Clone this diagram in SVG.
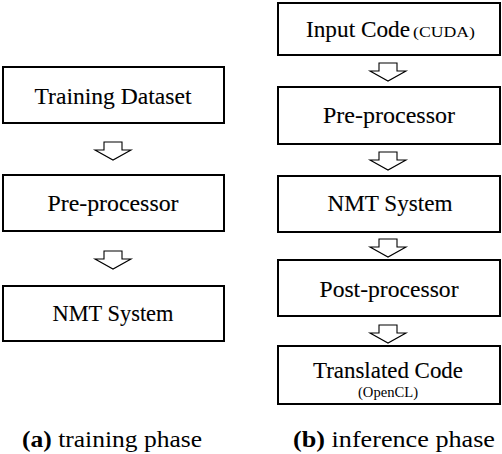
<svg xmlns="http://www.w3.org/2000/svg" width="502" height="454" viewBox="0 0 502 454">
<style>
.box{fill:#fff;stroke:#000;stroke-width:2}
.t{font-family:"Liberation Serif","Times New Roman",serif;font-size:24px;fill:#000;stroke:#000;stroke-width:0.12;text-anchor:middle}
.s{font-family:"Liberation Serif","Times New Roman",serif;font-size:14px;fill:#000}
.arr{fill:#fff;stroke:#000;stroke-width:1.1;stroke-linejoin:miter}
.cap{font-family:"Liberation Serif","Times New Roman",serif;font-size:23px;fill:#000;text-anchor:middle}
</style>
<defs>
<path id="darrow" class="arr" d="M-9,0 H9 V8 H18 L0,18 L-18,8 H-9 Z"/>
</defs>
<rect width="502" height="454" fill="#fff"/>
<g id="connectors">
<use href="#darrow" x="113" y="142"/>
<use href="#darrow" x="113" y="251"/>
<use href="#darrow" x="388" y="63"/>
<use href="#darrow" x="388" y="152"/>
<use href="#darrow" x="388" y="239"/>
<use href="#darrow" x="388" y="325"/>
</g>
<g id="train-dataset">
<rect class="box" x="3" y="67" width="221" height="56"/>
<text class="t" x="113" y="104" textLength="157" lengthAdjust="spacingAndGlyphs">Training Dataset</text>
</g>
<g id="train-preprocessor">
<rect class="box" x="3" y="175" width="221" height="56"/>
<text class="t" x="113" y="211" textLength="131" lengthAdjust="spacingAndGlyphs">Pre-processor</text>
</g>
<g id="train-nmt">
<rect class="box" x="3" y="286" width="221" height="55"/>
<text class="t" x="113" y="321" textLength="121" lengthAdjust="spacingAndGlyphs">NMT System</text>
</g>
<g id="inf-input">
<rect class="box" x="278" y="3" width="222" height="52"/>
<text class="t" x="358" y="37" textLength="104" lengthAdjust="spacingAndGlyphs">Input Code</text>
<text class="s" x="413" y="37" textLength="62" lengthAdjust="spacingAndGlyphs">(CUDA)</text>
</g>
<g id="inf-preprocessor">
<rect class="box" x="278" y="87" width="222" height="57"/>
<text class="t" x="389" y="123" textLength="132" lengthAdjust="spacingAndGlyphs">Pre-processor</text>
</g>
<g id="inf-nmt">
<rect class="box" x="278" y="176" width="222" height="56"/>
<text class="t" x="390" y="211" textLength="125" lengthAdjust="spacingAndGlyphs">NMT System</text>
</g>
<g id="inf-postprocessor">
<rect class="box" x="278" y="260" width="222" height="56"/>
<text class="t" x="389" y="297" textLength="139" lengthAdjust="spacingAndGlyphs">Post-processor</text>
</g>
<g id="inf-translated">
<rect class="box" x="278" y="346" width="222" height="58"/>
<text class="t" x="388" y="378" textLength="150" lengthAdjust="spacingAndGlyphs">Translated Code</text>
<text class="s" x="388" y="397" text-anchor="middle" textLength="60" lengthAdjust="spacingAndGlyphs">(OpenCL)</text>
</g>
<g id="captions">
<text class="cap" x="112" y="447" textLength="180" lengthAdjust="spacingAndGlyphs"><tspan font-weight="bold">(a)</tspan> training phase</text>
<text class="cap" x="394" y="447" textLength="202" lengthAdjust="spacingAndGlyphs"><tspan font-weight="bold">(b)</tspan> inference phase</text>
</g>
</svg>
